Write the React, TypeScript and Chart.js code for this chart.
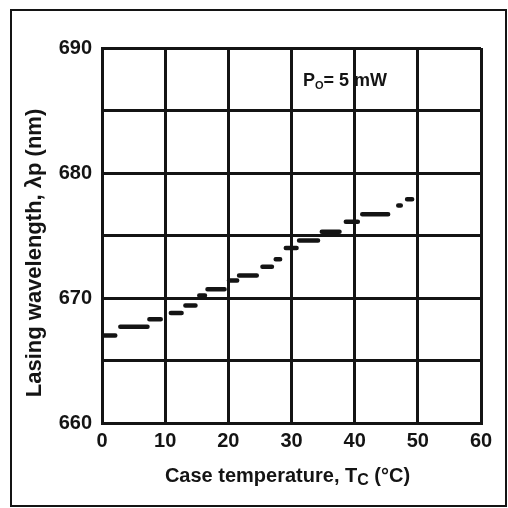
import { useEffect, useRef } from "react";
import { Chart, registerables } from "chart.js";

Chart.register(...registerables);

// Mode-hop segments: case temperature start/end (°C) and lasing wavelength (nm)
const segStartC = [0.2, 2.9, 7.5, 10.9, 13.2, 15.4, 16.7, 20.1, 21.7, 25.4, 27.5, 29.1, 31.2, 34.8, 38.6, 41.2, 46.9, 48.3];
const segEndC = [2.1, 7.2, 9.3, 12.6, 14.8, 16.3, 19.4, 21.4, 24.5, 26.9, 28.2, 30.8, 34.2, 37.6, 40.5, 45.3, 47.3, 49.1];
const segWavelengthNm = [667.0, 667.7, 668.3, 668.8, 669.4, 670.2, 670.7, 671.4, 671.8, 672.5, 673.1, 674.0, 674.6, 675.3, 676.1, 676.7, 677.4, 677.9];

const xMin = 0;
const xMax = 60;
const xStep = 10;
const yMin = 660;
const yMax = 690;
const yGridStep = 5;
const yLabelStep = 10;

const xTitleMain = "Case temperature, T";
const xTitleSub = "C";
const xTitleTail = " (°C)";
const yTitle = "Lasing wavelength, λp (nm)";
const noteMain = "P";
const noteSub = "O";
const noteTail = "= 5 mW";

const FONT = '"Liberation Sans", Arial, sans-serif';
const INK = "#141414";

export default function App() {
  const ref = useRef<HTMLCanvasElement>(null);

  useEffect(() => {
    const canvas = ref.current;
    if (!canvas) return;

    const points: { x: number; y: number | null }[] = [];
    segStartC.forEach((s, i) => {
      points.push({ x: s, y: segWavelengthNm[i] });
      points.push({ x: segEndC[i], y: segWavelengthNm[i] });
      points.push({ x: segEndC[i], y: null });
    });

    const decor = {
      id: "decor",
      beforeDraw(chart: any) {
        const ctx = chart.ctx;
        ctx.save();
        ctx.fillStyle = "#ffffff";
        ctx.fillRect(0, 0, chart.width, chart.height);
        ctx.restore();
      },
      afterDraw(chart: any) {
        const ctx = chart.ctx;
        const area = chart.chartArea;
        ctx.save();
        ctx.fillStyle = INK;
        ctx.strokeStyle = INK;

        // outer frame
        ctx.lineWidth = 2;
        ctx.strokeRect(11, 10, 495, 496);

        // x title
        ctx.textBaseline = "alphabetic";
        ctx.textAlign = "left";
        const big = `bold 20px ${FONT}`;
        const small = `bold 16px ${FONT}`;
        ctx.font = big;
        const w1 = ctx.measureText(xTitleMain).width;
        const w3 = ctx.measureText(xTitleTail).width;
        ctx.font = small;
        const w2 = ctx.measureText(xTitleSub).width;
        const total = w1 + w2 + w3;
        const cx = (area.left + area.right) / 2 - 4;
        let x = cx - total / 2;
        const base = 482;
        ctx.font = big;
        ctx.fillText(xTitleMain, x, base);
        x += w1;
        ctx.font = small;
        ctx.fillText(xTitleSub, x, base + 3);
        x += w2;
        ctx.font = big;
        ctx.fillText(xTitleTail, x, base);

        // y title
        ctx.save();
        ctx.translate(41, 253);
        ctx.rotate(-Math.PI / 2);
        ctx.textAlign = "center";
        ctx.textBaseline = "alphabetic";
        ctx.font = `bold 22px ${FONT}`;
        ctx.fillText(yTitle, 0, 0);
        ctx.restore();

        // P0 note
        ctx.textAlign = "left";
        let nx = 303;
        const nb = 86;
        ctx.font = `bold 18px ${FONT}`;
        ctx.fillText(noteMain, nx, nb);
        nx += ctx.measureText(noteMain).width;
        ctx.font = `bold 11px ${FONT}`;
        ctx.fillText(noteSub, nx, nb + 3);
        nx += ctx.measureText(noteSub).width;
        ctx.font = `bold 18px ${FONT}`;
        ctx.fillText(noteTail, nx, nb);

        ctx.restore();
      },
    };

    const chart = new Chart(canvas, {
      type: "line",
      data: {
        datasets: [
          {
            data: points as any,
            borderColor: INK,
            borderWidth: 4.5,
            borderCapStyle: "round",
            pointRadius: 0,
            spanGaps: false,
            tension: 0,
          },
        ],
      },
      options: {
        responsive: false,
        animation: false,
        events: [],
        layout: { padding: { left: 0, right: 27, top: 48, bottom: 0 } },
        plugins: {
          legend: { display: false },
          tooltip: { enabled: false },
          title: { display: false },
        },
        scales: {
          x: {
            type: "linear",
            min: xMin,
            max: xMax,
            afterFit: (s: any) => {
              s.height = 85;
            },
            ticks: {
              stepSize: xStep,
              padding: 6,
              color: INK,
              font: { family: FONT, size: 20, weight: "bold" },
              maxRotation: 0,
            },
            grid: { color: INK, lineWidth: 3, drawTicks: false },
            border: { color: INK, width: 3 },
          },
          y: {
            type: "linear",
            min: yMin,
            max: yMax,
            afterFit: (s: any) => {
              s.width = 102;
            },
            ticks: {
              stepSize: yGridStep,
              padding: 10,
              color: INK,
              font: { family: FONT, size: 20, weight: "bold" },
              callback: (v: any) => (Number(v) % yLabelStep === 0 ? String(v) : ""),
            },
            grid: { color: INK, lineWidth: 3, drawTicks: false },
            border: { color: INK, width: 3 },
          },
        },
      },
      plugins: [decor],
    });

    return () => chart.destroy();
  }, []);

  return (
    <div style={{ position: "fixed", left: 0, top: 0, width: 508, height: 508, background: "#fff" }}>
      <canvas ref={ref} width={508} height={508} style={{ width: 508, height: 508, display: "block" }} />
    </div>
  );
}
